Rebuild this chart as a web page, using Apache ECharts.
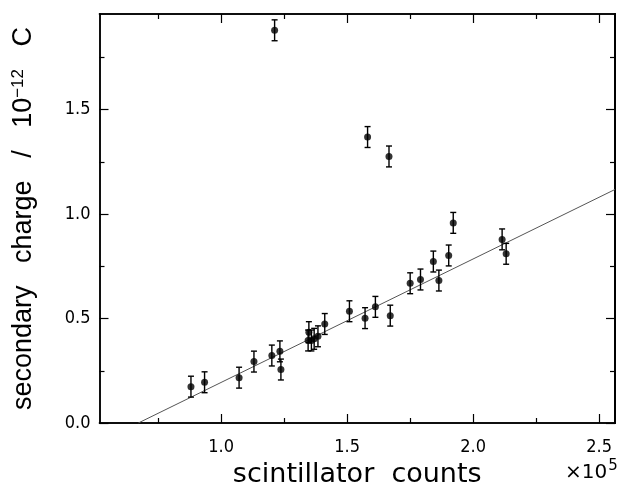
<!DOCTYPE html>
<html>
<head>
<meta charset="utf-8">
<script src="https://cdn.jsdelivr.net/npm/echarts@6/dist/echarts.min.js"></script>
<style>html,body{margin:0;padding:0;background:#fff}#c{width:621px;height:493px}</style>
</head>
<body>
<div id="c"></div>
<script>
// scintillator counts (x 10^5)
const xVals = [0.880, 0.934, 1.071, 1.130, 1.201, 1.233, 1.237, 1.212, 1.345, 1.348, 1.358, 1.369, 1.384, 1.411,
               1.509, 1.571, 1.581, 1.612, 1.666, 1.671, 1.750, 1.791, 1.842, 1.864, 1.903, 1.921, 2.115, 2.131];
// secondary charge (x 10^-12 C)
const yVals = [0.174, 0.195, 0.217, 0.294, 0.323, 0.343, 0.256, 1.880, 0.395, 0.435, 0.395, 0.403, 0.415, 0.474,
               0.535, 0.502, 1.369, 0.556, 1.276, 0.514, 0.669, 0.687, 0.773, 0.682, 0.802, 0.958, 0.879, 0.810];
const yErr  = [0.05, 0.05, 0.05, 0.05, 0.05, 0.05, 0.05, 0.05, 0.05, 0.05, 0.05, 0.05, 0.05, 0.05,
               0.05, 0.05, 0.05, 0.05, 0.05, 0.05, 0.05, 0.05, 0.05, 0.05, 0.05, 0.05, 0.05, 0.05];
// fitted straight line end points
const fitX = [0.671, 2.563];
const fitY = [0.0, 1.118];
// tick values / labels
const xMajorTicks = [1.0, 1.5, 2.0, 2.5];
const xMinorTicks = [0.75, 1.25, 1.75, 2.25];
const xTickLabels = ['1.0', '1.5', '2.0', '2.5'];
const yMajorTicks = [0.0, 0.5, 1.0, 1.5];
const yMinorTicks = [0.25, 0.75, 1.25, 1.75];
const yTickLabels = ['0.0', '0.5', '1.0', '1.5'];

const X_MIN = 0.517, X_MAX = 2.563, Y_MIN = 0, Y_MAX = 1.958;
const tickFont = 'Liberation Sans Narrow, DejaVu Sans Condensed, Liberation Sans, sans-serif';

const points = xVals.map((x, i) => [x, yVals[i]]);
const errData = xVals.map((x, i) => [x, yVals[i], yErr[i]]);
const fitData = fitX.map((x, i) => [x, fitY[i]]);

function mkAxis(kind, pos, ticks, len, labels, labelTexts, lineW) {
  const isX = kind === 'x';
  return {
    type: 'value', position: pos,
    min: isX ? X_MIN : Y_MIN, max: isX ? X_MAX : Y_MAX,
    axisLine: { show: true, onZero: false, lineStyle: { color: '#000', width: lineW } },
    axisTick: { show: true, inside: true, length: len, customValues: ticks, lineStyle: { color: '#000', width: 1.2 } },
    splitLine: { show: false },
    axisLabel: labels ? {
      show: true, margin: isX ? 15 : 9, color: '#000', fontSize: 18, fontFamily: tickFont,
      customValues: ticks,
      formatter: v => { const k = ticks.findIndex(t => Math.abs(t - v) < 1e-6); return k >= 0 ? labelTexts[k] : ''; }
    } : { show: false }
  };
}

const xAxes = [
  mkAxis('x', 'bottom', xMajorTicks, 9, true, xTickLabels, 1.5),
  mkAxis('x', 'bottom', xMinorTicks, 5, false, null, 1.5),
  mkAxis('x', 'top', xMajorTicks, 9, false, null, 1.5),
  mkAxis('x', 'top', xMinorTicks, 5, false, null, 1.5)
];
xAxes[0].name = 'scintillator  counts';
xAxes[0].nameLocation = 'middle';
xAxes[0].nameGap = 38;
xAxes[0].nameTextStyle = { color: '#000', fontSize: 27, fontFamily: 'DejaVu Sans, sans-serif' };

const yAxes = [
  mkAxis('y', 'left', yMajorTicks, 9, true, yTickLabels, 1.5),
  mkAxis('y', 'left', yMinorTicks, 5, false, null, 1.5),
  mkAxis('y', 'right', yMajorTicks, 9, false, null, 2),
  mkAxis('y', 'right', yMinorTicks, 5, false, null, 2)
];
yAxes[0].name = 'secondary   charge   /   10{sup|−12}   C';
yAxes[0].nameLocation = 'middle';
yAxes[0].nameGap = 61;
yAxes[0].nameTextStyle = {
  color: '#000', fontSize: 27, fontFamily: 'Liberation Sans, Arial, sans-serif',
  rich: { sup: { fontSize: 17, color: '#000', fontFamily: 'Liberation Sans, Arial, sans-serif', padding: [0, 0, 12, 0] } }
};

const option = {
  animation: false,
  backgroundColor: '#fff',
  grid: { left: 99.5, right: 6, top: 14, bottom: 70, show: false },
  xAxis: xAxes,
  yAxis: yAxes,
  graphic: [{
    type: 'text', left: 565, top: 459,
    style: {
      text: '×10{sup|5}', fill: '#000', fontSize: 20, fontFamily: 'DejaVu Sans, sans-serif',
      rich: { sup: { fontSize: 15, fontFamily: 'DejaVu Sans, sans-serif', fill: '#000', padding: [0, 0, 12, 1] } }
    }
  }],
  series: [
    {
      type: 'line', data: fitData, xAxisIndex: 0, yAxisIndex: 0, symbol: 'none', clip: true,
      lineStyle: { color: '#555', width: 1 }, z: 1
    },
    {
      type: 'custom', data: errData, xAxisIndex: 0, yAxisIndex: 0, z: 2,
      renderItem: function (params, api) {
        const x = api.value(0), y = api.value(1), e = api.value(2);
        const lo = api.coord([x, y - e]);
        const hi = api.coord([x, y + e]);
        const cw = 3;
        const st = { stroke: '#000', lineWidth: 1.4 };
        return {
          type: 'group', children: [
            { type: 'line', shape: { x1: lo[0], y1: lo[1], x2: hi[0], y2: hi[1] }, style: st },
            { type: 'line', shape: { x1: lo[0] - cw, y1: lo[1], x2: lo[0] + cw, y2: lo[1] }, style: st },
            { type: 'line', shape: { x1: hi[0] - cw, y1: hi[1], x2: hi[0] + cw, y2: hi[1] }, style: st }
          ]
        };
      }
    },
    {
      type: 'scatter', data: points, xAxisIndex: 0, yAxisIndex: 0, symbol: 'circle', symbolSize: 7,
      itemStyle: { color: '#000' }, z: 3
    }
  ]
};
const chart = echarts.init(document.getElementById('c'), null, { renderer: 'canvas' });
chart.setOption(option);
</script>
</body>
</html>
